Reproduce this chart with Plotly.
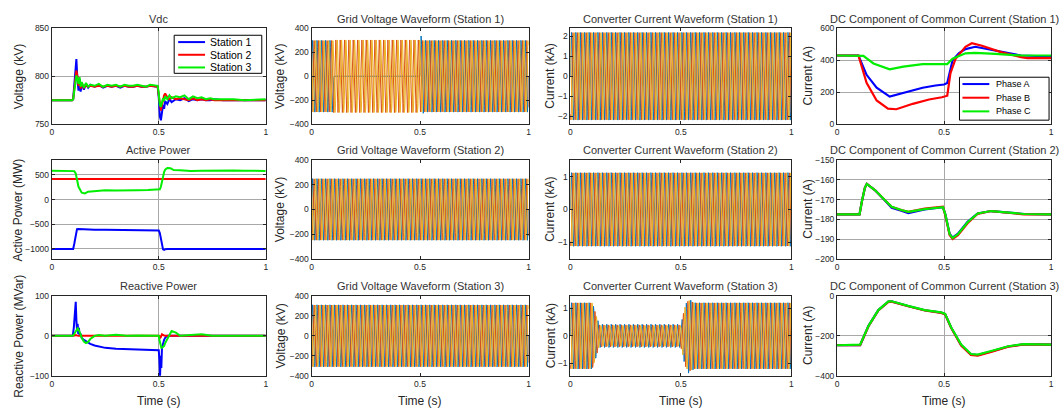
import numpy as np
import plotly.graph_objects as go

W, H = 1062, 416
FONT = "Liberation Sans, Arial, Helvetica, sans-serif"

# ---------------- data: column 1 ----------------
T_VDC = [0, 0.095, 0.100, 0.105, 0.110, 0.115, 0.120, 0.125, 0.130, 0.135, 0.140, 0.150, 0.160,
         0.170, 0.180, 0.200, 0.220, 0.240, 0.260, 0.280, 0.300, 0.320, 0.340, 0.360, 0.380,
         0.400, 0.420, 0.440, 0.460, 0.480, 0.495, 0.500, 0.505, 0.510, 0.515, 0.520, 0.525,
         0.530, 0.540, 0.550, 0.560, 0.580, 0.600, 0.620, 0.640, 0.660, 0.680, 0.700, 0.720,
         0.740, 0.760, 0.800, 0.850, 0.900, 1.000]
VDC_S1 = [775, 775, 776, 790, 800, 818, 796, 785, 797, 784, 792, 786, 792, 788, 791, 789, 791,
          788, 790, 789, 790, 788, 790, 789, 789, 790, 789, 789, 790, 789, 789, 778, 758, 754,
          764, 770, 766, 774, 771, 776, 773, 776, 775, 777, 774, 776, 775, 776, 775, 775, 776,
          775, 775, 775, 775]
VDC_S2 = [775, 775, 776, 788, 798, 806, 800, 790, 796, 787, 793, 788, 791, 789, 790, 789, 790,
          789, 790, 789, 790, 789, 790, 789, 789, 790, 789, 789, 790, 789, 789, 780, 768, 764,
          770, 776, 780, 782, 778, 776, 778, 776, 777, 776, 775, 777, 775, 776, 775, 776, 775,
          775, 775, 775, 775]
VDC_S3 = [775, 775, 776, 786, 795, 801, 797, 792, 799, 789, 794, 788, 793, 789, 791, 790, 792,
          789, 791, 790, 791, 789, 791, 790, 790, 791, 790, 789, 791, 790, 790, 782, 770, 768,
          772, 777, 774, 779, 776, 780, 777, 779, 778, 780, 776, 779, 777, 778, 776, 777, 776,
          776, 776, 775, 776]

T_P = [0, 0.10, 0.105, 0.112, 0.118, 0.125, 0.14, 0.155, 0.17, 0.20, 0.25, 0.30, 0.35, 0.40,
       0.45, 0.50, 0.505, 0.51, 0.515, 0.52, 0.525, 0.53, 0.54, 0.555, 0.57, 0.60, 0.65, 0.70,
       0.75, 0.80, 0.85, 0.90, 1.0]
P_S1 = [-1000, -1000, -900, -700, -600, -595, -600, -605, -605, -610, -610, -612, -618, -622,
        -625, -625, -680, -800, -950, -1010, -1020, -1005, -1000, -1000, -1000, -1000, -1000,
        -1000, -1000, -1000, -1000, -1000, -1000]
P_S2 = [420] * len(T_P)
P_S3 = [585, 585, 578, 530, 400, 260, 140, 125, 160, 170, 190, 185, 180, 190, 195, 195, 210,
        260, 380, 480, 560, 610, 640, 635, 600, 595, 580, 585, 590, 595, 590, 585, 582]

T_Q = [0, 0.098, 0.103, 0.108, 0.112, 0.115, 0.118, 0.121, 0.124, 0.127, 0.13, 0.135, 0.14,
       0.15, 0.16, 0.17, 0.18, 0.2, 0.22, 0.25, 0.3, 0.35, 0.4, 0.45, 0.49, 0.5, 0.503, 0.506,
       0.509, 0.512, 0.515, 0.52, 0.525, 0.53, 0.54, 0.55, 0.56, 0.58, 0.6, 0.65, 0.7, 0.75,
       0.8, 1.0]
Q_S1 = [0, 0, 20, 55, 85, 40, 15, 30, 5, 20, 0, 5, -5, -10, -14, -17, -20, -24, -27, -30, -32,
        -33, -34, -35, -36, -36, -60, -100, -50, -80, -30, -15, -10, -5, 0, 0, 0, 0, 0, 0, 0,
        0, 0, 0]
Q_S2 = [0, 0, 0, 1, 2, 1, 0, 0, 0, 0, 0, 0, 0, 0, 0, 0, 0, 0, 0, 0, 0, 0, 0, 0, 0, 0, -3, -5,
        -4, 2, 4, 2, 0, 0, 0, 0, 0, 0, 0, 0, 0, 0, 0, 0]
Q_S3 = [0, 0, 3, 8, 12, 15, 18, 19, 17, 14, 10, 3, -5, -14, -18, -15, -8, 0, 2, 0, 3, 0, 1, 0,
        0, 0, -10, -20, -28, -30, -30, -28, -25, -18, -8, 5, 12, 8, 0, 2, 4, 0, 0, 0]

# ---------------- data: column 4 (DC component of common current) ----------------
T_DC1_A = [0, 0.10, 0.138, 0.185, 0.246, 0.308, 0.40, 0.46, 0.50, 0.515, 0.54, 0.57, 0.60,
           0.646, 0.74, 0.86, 1.0]
DC1_A = [430, 430, 309, 228, 172, 194, 228, 242, 248, 258, 400, 445, 470, 485, 460, 430, 424]
T_DC1_B = [0, 0.10, 0.138, 0.185, 0.238, 0.277, 0.354, 0.43, 0.49, 0.515, 0.53, 0.554, 0.60,
           0.63, 0.677, 0.77, 0.86, 0.89, 1.0]
DC1_B = [430, 430, 259, 148, 97, 93, 127, 154, 168, 178, 319, 410, 485, 507, 491, 450, 420,
         414, 414]
T_DC1_C = [0, 0.123, 0.17, 0.246, 0.31, 0.40, 0.515, 0.54, 0.60, 0.646, 0.74, 0.86, 1.0]
DC1_C = [430, 428, 380, 343, 360, 376, 376, 410, 444, 446, 440, 430, 430]

T_DC2 = [0, 0.105, 0.116, 0.13, 0.139, 0.15, 0.178, 0.224, 0.255, 0.30, 0.333, 0.41, 0.495,
         0.506, 0.526, 0.54, 0.565, 0.61, 0.657, 0.72, 0.80, 0.875, 1.0]
DC2_A = [-177.5, -177.5, -171, -164, -162, -163, -165.3, -170.5, -174.2, -175.6, -176.8,
         -175.0, -173.8, -177.5, -187.3, -189.3, -187.3, -181.3, -177.0, -175.8, -176.5,
         -177.3, -177.5]
DC2_B = [-177.5, -177.5, -171, -164, -162, -163, -165.3, -170.3, -173.7, -175.3, -176.2,
         -174.6, -173.6, -178.0, -188.0, -190.0, -188.0, -182.0, -177.2, -175.8, -176.6,
         -177.5, -177.5]
DC2_C = [-177.5, -177.5, -171, -164, -162, -163, -165.3, -170.3, -173.7, -175.3, -176.2,
         -174.8, -173.8, -177.5, -187.5, -189.5, -187.5, -181.5, -177.0, -175.8, -176.5,
         -177.3, -177.5]

T_DC3 = [0, 0.108, 0.147, 0.193, 0.24, 0.255, 0.332, 0.41, 0.487, 0.505, 0.533, 0.58, 0.626,
         0.657, 0.72, 0.80, 0.873, 0.95, 1.0]
DC3_A = [-247, -246, -150, -71, -29, -28, -51, -72, -84, -91, -158, -246, -293, -296, -278,
         -253, -242, -241, -244]
DC3_B = [-247, -246, -152, -73, -30, -29, -52, -73, -85, -92, -160, -248, -296, -299, -280,
         -254, -243, -242, -244]
DC3_C = [-247, -244, -150, -71, -28, -27, -50, -71, -83, -90, -157, -244, -291, -294, -276,
         -252, -241, -241, -244]

# ---------------- data: columns 2 & 3 (three-phase 50 Hz waveforms) ----------------
FREQ_HZ = 50.0
PHASE_SHIFT_DEG = [0, -120, 120]
WAVE_STEP_S = 1 / 1000
# amplitude envelopes per phase (A, B, C)
V1_ENV_T = [0, 0.099, 0.101, 0.499, 0.501, 0.51, 0.52, 1.0]
V1_ENV = [[300, 300, 0, 0, 350, 320, 300, 300],
          [300, 300, 305, 305, 300, 300, 300, 300],
          [300, 300, 305, 305, 300, 300, 300, 300]]
V2_ENV_T = [0, 1.0]
V2_ENV = [[250, 250], [250, 250], [250, 250]]
V3_ENV_T = [0, 1.0]
V3_ENV = [[310, 310], [310, 310], [310, 310]]
I1_ENV_T = [0, 1.0]
I1_ENV = [[2.2, 2.2], [2.2, 2.2], [2.2, 2.2]]
I2_ENV_T = [0, 1.0]
I2_ENV = [[1.12, 1.12], [1.12, 1.12], [1.12, 1.12]]
I3_ENV_T = [0, 0.10, 0.13, 0.50, 0.52, 0.535, 0.56, 1.0]
I3_ENV = [[1.2, 1.2, 0.42, 0.42, 1.1, 1.35, 1.2, 1.2],
          [1.2, 1.2, 0.40, 0.40, 1.1, 1.3, 1.2, 1.2],
          [1.2, 1.2, 0.38, 0.38, 1.1, 1.3, 1.2, 1.2]]

STATION_COLORS = ["#0000FF", "#FF0000", "#00EE00"]
WAVE_COLORS = ["#0072BD", "#D95319", "#EDB120"]

TITLES = [["Vdc", "Grid Voltage Waveform (Station 1)", "Converter Current Waveform (Station 1)",
           "DC Component of Common Current (Station 1)"],
          ["Active Power", "Grid Voltage Waveform (Station 2)", "Converter Current Waveform (Station 2)",
           "DC Component of Common Current (Station 2)"],
          ["Reactive Power", "Grid Voltage Waveform (Station 3)", "Converter Current Waveform (Station 3)",
           "DC Component of Common Current (Station 3)"]]
YTITLES = [["Voltage (kV)", "Voltage (kV)", "Current (kA)", "Current (A)"],
           ["Active Power (MW)", "Voltage (kV)", "Current (kA)", "Current (A)"],
           ["Reactive Power (MVar)", "Voltage (kV)", "Current (kA)", "Current (A)"]]
YRANGES = [[[750, 850], [-400, 400], [-2.4, 2.4], [0, 600]],
           [[-1200, 800], [-400, 400], [-1.5, 1.5], [-200, -150]],
           [[-100, 100], [-400, 400], [-1.45, 1.45], [-400, 0]]]
YTICKS = [[[750, 800, 850], [-400, -200, 0, 200, 400], [-2, -1, 0, 1, 2], [0, 200, 400, 600]],
          [[-1000, -500, 0, 500], [-400, -200, 0, 200, 400], [-1, 0, 1],
           [-200, -190, -180, -170, -160, -150]],
          [[-100, 0, 100], [-400, -200, 0, 200, 400], [-1, 0, 1], [-400, -200, 0]]]
XTICKS = [0, 0.5, 1]
XTITLE = "Time (s)"
LEGEND1 = ["Station 1", "Station 2", "Station 3"]
LEGEND2 = ["Phase A", "Phase B", "Phase C"]

# ---------------- layout geometry (pixels) ----------------
COL_X = [(50, 265), (311, 529), (571, 793), (839, 1054)]
ROW_Y = [(24, 122), (159, 260), (298, 380)]


def px(x):
    return x / W


def py(y):
    return 1 - y / H


fig = go.Figure()


def idx(r, c):
    return r * 4 + c + 1


def add_line(r, c, x, y, color, width):
    i = idx(r, c)
    fig.add_trace(go.Scatter(x=x, y=y, mode="lines", line=dict(color=color, width=width),
                             xaxis=f"x{i}", yaxis=f"y{i}", showlegend=False, hoverinfo="skip"))


# column 1
for k, vals in enumerate([VDC_S1, VDC_S2, VDC_S3]):
    add_line(0, 0, T_VDC, vals, STATION_COLORS[k], 2)
for k, vals in enumerate([P_S1, P_S2, P_S3]):
    add_line(1, 0, T_P, vals, STATION_COLORS[k], 2)
for k, vals in enumerate([Q_S1, Q_S2, Q_S3]):
    add_line(2, 0, T_Q, vals, STATION_COLORS[k], 2)

# columns 2, 3
t_w = np.arange(0, 1.0 + 1e-9, WAVE_STEP_S)
waves = [[(V1_ENV_T, V1_ENV), (I1_ENV_T, I1_ENV)],
         [(V2_ENV_T, V2_ENV), (I2_ENV_T, I2_ENV)],
         [(V3_ENV_T, V3_ENV), (I3_ENV_T, I3_ENV)]]
for r in range(3):
    for cc in range(2):
        env_t, env = waves[r][cc]
        for ph in range(3):
            amp = np.interp(t_w, env_t, env[ph])
            y = amp * np.sin(2 * np.pi * FREQ_HZ * t_w + np.deg2rad(PHASE_SHIFT_DEG[ph]))
            add_line(r, cc + 1, t_w, y, WAVE_COLORS[ph], 1.0)

# column 4
add_line(0, 3, T_DC1_A, DC1_A, STATION_COLORS[0], 2.2)
add_line(0, 3, T_DC1_B, DC1_B, STATION_COLORS[1], 2.2)
add_line(0, 3, T_DC1_C, DC1_C, STATION_COLORS[2], 2.2)
for k, vals in enumerate([DC2_A, DC2_B, DC2_C]):
    add_line(1, 3, T_DC2, vals, STATION_COLORS[k], 2.2)
for k, vals in enumerate([DC3_A, DC3_B, DC3_C]):
    add_line(2, 3, T_DC3, vals, STATION_COLORS[k], 2.2)

layout = dict(width=W, height=H, margin=dict(l=0, r=0, t=0, b=0), paper_bgcolor="white",
              plot_bgcolor="white", showlegend=False, font=dict(family=FONT, color="#262626"))
annotations = []
shapes = []
AX = "#262626"
for r in range(3):
    for c in range(4):
        i = idx(r, c)
        x0, x1 = COL_X[c]
        y0, y1 = ROW_Y[r]
        grid = c in (0, 3)
        common = dict(ticks="inside", ticklen=3, tickwidth=1, tickcolor=AX, showline=True,
                      linecolor=AX, linewidth=1, mirror="allticks", showgrid=grid,
                      gridcolor="#a8a8a8", gridwidth=1, zeroline=False,
                      tickfont=dict(size=8.5, color=AX, family=FONT), fixedrange=True)
        layout[f"xaxis{i}"] = dict(domain=[px(x0), px(x1)], range=[0, 1], tickvals=XTICKS,
                                   anchor=f"y{i}", **common)
        layout[f"yaxis{i}"] = dict(domain=[py(y1), py(y0)], range=YRANGES[r][c],
                                   tickvals=YTICKS[r][c], anchor=f"x{i}", **common)
        cx = (x0 + x1) / 2
        annotations.append(dict(text=TITLES[r][c], x=px(cx), y=py(y0 - 10), xref="paper",
                                yref="paper", showarrow=False, xanchor="center", yanchor="middle",
                                font=dict(size=11, color="#333333", family=FONT)))
        ytx = [17, 280, 551, 810][c]
        annotations.append(dict(text=YTITLES[r][c], x=px(ytx), y=py((y0 + y1) / 2), xref="paper",
                                yref="paper", showarrow=False, textangle=-90, xanchor="center",
                                yanchor="middle", font=dict(size=12, color=AX, family=FONT)))
        if r == 2:
            annotations.append(dict(text=XTITLE, x=px(cx), y=py(406), xref="paper", yref="paper",
                                    showarrow=False, xanchor="center", yanchor="middle",
                                    font=dict(size=12, color=AX, family=FONT)))


def add_legend(box, line_x, rows_y, text_x, labels, fsize):
    bx0, by0, bx1, by1 = box
    shapes.append(dict(type="rect", xref="paper", yref="paper", x0=px(bx0), x1=px(bx1),
                       y0=py(by1), y1=py(by0), line=dict(color="#000000", width=1),
                       fillcolor="white", layer="above"))
    for k, lab in enumerate(labels):
        shapes.append(dict(type="line", xref="paper", yref="paper", x0=px(line_x[0]),
                           x1=px(line_x[1]), y0=py(rows_y[k]), y1=py(rows_y[k]),
                           line=dict(color=STATION_COLORS[k], width=2), layer="above"))
        annotations.append(dict(text=lab, x=px(text_x), y=py(rows_y[k]), xref="paper",
                                yref="paper", showarrow=False, xanchor="left", yanchor="middle",
                                font=dict(size=fsize, color="#000000", family=FONT)))


add_legend((173, 31, 261, 70), (177, 204), [38, 51, 64], 207, LEGEND1, 10.5)
add_legend((962, 74, 1052, 118), (965, 992), [81, 95, 109], 997, LEGEND2, 9)

layout["annotations"] = annotations
layout["shapes"] = shapes
fig.update_layout(**layout)
fig.write_html("out.html")
